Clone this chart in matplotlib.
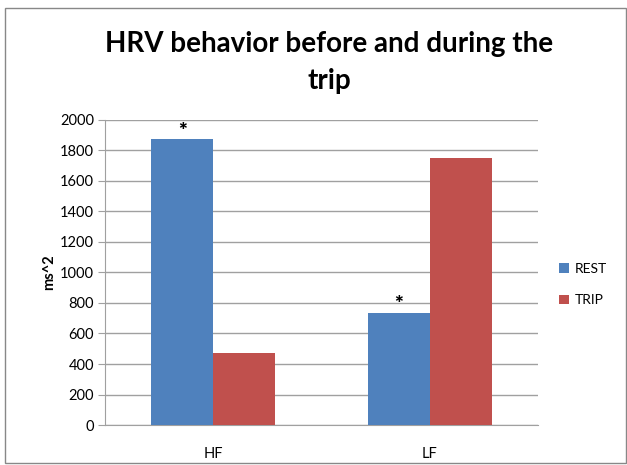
import matplotlib
matplotlib.use("Agg")
import matplotlib.pyplot as plt
import numpy as np
from matplotlib.patches import Rectangle

categories = ["HF", "LF"]
rest = [1873, 737]
trip = [472, 1752]
series_names = ["REST", "TRIP"]
significant_rest = [True, True]
yticks = [0, 200, 400, 600, 800, 1000, 1200, 1400, 1600, 1800, 2000]

plt.rcParams['font.family'] = ['Lato', 'DejaVu Sans']

fig = plt.figure(figsize=(6.27, 4.65), dpi=100)
ax = fig.add_axes([0.1675, 0.086, 0.6905, 0.656])

x = np.arange(len(categories))
w = 0.286
b1 = ax.bar(x - w/2, rest, w, color="#4F81BD", label=series_names[0], zorder=3)
b2 = ax.bar(x + w/2, trip, w, color="#C0504D", label=series_names[1], zorder=3)

for xi, v, s in zip(x, rest, significant_rest):
    if s:
        ax.text(xi - w/2, v - 10, "*", ha="center", va="bottom", fontsize=15,
                fontweight="heavy", color="black")

ax.set_xlim(-0.5, 1.5)
ax.set_ylim(0, 2000)
ax.set_yticks(yticks)
ax.set_xticks(x)
ax.set_xticklabels(categories)
ax.yaxis.grid(True, color="#a0a0a0", linewidth=1, zorder=0)
ax.set_axisbelow(True)
for sp in ["top", "right"]:
    ax.spines[sp].set_visible(False)
ax.spines["left"].set_color("#a0a0a0")
ax.spines["bottom"].set_color("#a0a0a0")
ax.tick_params(axis="y", length=5, color="#a0a0a0", labelsize=10.5, pad=3)
ax.tick_params(axis="x", length=0, labelsize=10.5, pad=16)
ax.set_ylabel("ms^2", fontsize=10.5, fontweight="bold", labelpad=3)

fig.text(0.525, 0.866, "HRV behavior before and during the\ntrip", ha="center",
         va="center", fontsize=20, fontweight="bold", linespacing=1.5)

leg = ax.legend(loc="center left", bbox_to_anchor=(1.02, 0.46), frameon=False,
                fontsize=10, handlelength=0.7, handleheight=0.7,
                labelspacing=1.4, handletextpad=0.4)

fig.patches.append(Rectangle((0.008, 0.004), 0.99, 0.978, transform=fig.transFigure,
                             fill=False, edgecolor="#888888", linewidth=1))

fig.savefig("out.png", dpi=100)
